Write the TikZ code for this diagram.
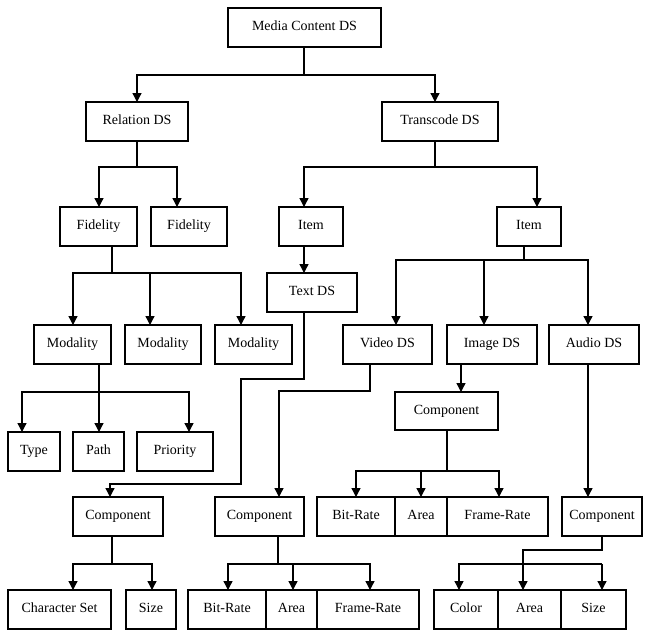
\documentclass[tikz,border=0pt]{standalone}
\usepackage{fontspec}
\setmainfont{Liberation Serif}
\usetikzlibrary{arrows.meta}
\tikzset{
  bx/.style={draw, line width=1.3pt, inner sep=0pt, outer sep=0pt, text height=9.5pt, text depth=3pt, font=\fontsize{14}{16}\selectfont},
  ln/.style={line width=1.3pt},
  arr/.style={line width=1.3pt, -{Triangle[width=9pt,length=9pt]}}
}
\newcommand\bx[6]{\node[bx,minimum width={#4pt-#2pt},minimum height={#5pt-#3pt}] (#1) at ({(#2+#4)/2},{(#3+#5)/2}) {#6};}
\begin{document}
\begin{tikzpicture}[x=1pt,y=-1pt]
\useasboundingbox (0,0) rectangle (647,630);
% boxes
\bx{mcd}{228}{8}{381}{47}{Media Content DS}
\bx{rel}{86}{102}{188}{141}{Relation DS}
\bx{trans}{382}{102}{498}{141}{Transcode DS}
\bx{fid1}{60}{207}{137}{246}{Fidelity}
\bx{fid2}{151}{207}{227}{246}{Fidelity}
\bx{item1}{279}{207}{343}{246}{Item}
\bx{item2}{497}{207}{561}{246}{Item}
\bx{textds}{267}{273}{357}{312}{Text DS}
\bx{mod1}{34}{325}{111}{364}{Modality}
\bx{mod2}{125}{325}{201}{364}{Modality}
\bx{mod3}{215}{325}{292}{364}{Modality}
\bx{video}{343}{325}{432}{364}{Video DS}
\bx{image}{447}{325}{537}{364}{Image DS}
\bx{audio}{549}{325}{639}{364}{Audio DS}
\bx{type}{8}{432}{60}{471}{Type}
\bx{path}{73}{432}{124}{471}{Path}
\bx{prio}{137}{432}{213}{471}{Priority}
\bx{comp3}{395}{392}{498}{430}{Component}
\bx{br1}{317}{497}{395}{536}{Bit-Rate}
\bx{area1}{395}{497}{447}{536}{Area}
\bx{fr1}{447}{497}{548}{536}{Frame-Rate}
\bx{comp1}{73}{497}{163}{536}{Component}
\bx{comp2}{215}{497}{304}{536}{Component}
\bx{comp4}{562}{497}{642}{536}{Component}
\bx{cs}{8}{590}{111}{629}{Character Set}
\bx{size1}{126}{590}{176}{629}{Size}
\bx{br2}{188}{590}{266}{629}{Bit-Rate}
\bx{area2}{266}{590}{317}{629}{Area}
\bx{fr2}{317}{590}{419}{629}{Frame-Rate}
\bx{color}{434}{590}{498}{629}{Color}
\bx{area3}{498}{590}{561}{629}{Area}
\bx{size2}{561}{590}{626}{629}{Size}
% connectors
\coordinate (j1) at (304,75);
\draw[ln] ([xshift=-0.5pt]mcd.south) -- (j1);
\draw[arr] (j1) -| (rel.north);
\draw[arr] (j1) -| ([xshift=-5pt]trans.north);

\coordinate (j2) at (137,167);
\draw[ln] (rel.south) -- (j2);
\draw[arr] (j2) -| ([xshift=0.5pt]fid1.north);
\draw[arr] (j2) -| ([xshift=-12pt]fid2.north);

\coordinate (j3) at (435,167);
\draw[ln] ([xshift=-5pt]trans.south) -- (j3);
\draw[arr] (j3) -| ([xshift=-7pt]item1.north);
\draw[arr] (j3) -| ([xshift=8pt]item2.north);

\coordinate (j4) at (112,273);
\draw[ln] ([xshift=13.5pt]fid1.south) -- (j4);
\draw[arr] (j4) -| ([xshift=0.5pt]mod1.north);
\draw[arr] (j4) -| ([xshift=-13pt]mod2.north);
\draw[arr] (j4) -| ([xshift=-12.5pt]mod3.north);

\draw[arr] ([xshift=-7pt]item1.south) -- ([xshift=-8pt]textds.north);

\coordinate (j6) at (524,260);
\draw[ln] ([xshift=-5pt]item2.south) -- (j6);
\draw[arr] (j6) -| ([xshift=8.5pt]video.north);
\draw[arr] (j6) -| ([xshift=-8pt]image.north);
\draw[arr] (j6) -| ([xshift=-6pt]audio.north);

\coordinate (j7) at (99,392);
\draw[ln] ([xshift=26.5pt]mod1.south) -- (j7);
\draw[arr] (j7) -| ([xshift=-12pt]type.north);
\draw[arr] (j7) -| ([xshift=0.5pt]path.north);
\draw[arr] (j7) -| ([xshift=14pt]prio.north);

\draw[arr] ([xshift=-8pt]textds.south) -- ++(0,67) -| (241,484) -| ([xshift=-8pt]comp1.north);

\draw[arr] ([xshift=-17.5pt]video.south) -- ++(0,27) -| ([xshift=19.5pt]comp2.north);

\draw[arr] ([xshift=14pt]image.south west) -- ([xshift=14pt]image.south west |- comp3.north);

\coordinate (j11) at (447,471);
\draw[ln] ([xshift=0.5pt]comp3.south) -- (j11);
\draw[arr] (j11) -| (br1.north);
\draw[arr] (j11) -| (area1.north);
\draw[arr] (j11) -| ([xshift=1.5pt]fr1.north);

\draw[arr] ([xshift=-6pt]audio.south) -- ([xshift=-6pt]audio.south |- comp4.north);

\coordinate (j13) at (112,564);
\draw[ln] ([xshift=-6pt]comp1.south) -- (j13);
\draw[arr] (j13) -| ([xshift=13.5pt]cs.north);
\draw[arr] (j13) -| ([xshift=1pt]size1.north);

\coordinate (j14) at (278,564);
\draw[ln] ([xshift=18.5pt]comp2.south) -- (j14);
\draw[arr] (j14) -| ([xshift=1pt]br2.north);
\draw[arr] (j14) -| ([xshift=1.5pt]area2.north);
\draw[arr] (j14) -| ([xshift=2pt]fr2.north);

\draw[arr] (comp4.south) -- ++(0,14) -| ([xshift=-6.5pt]area3.north);
\coordinate (j15) at (602,564);
\draw[arr] (j15) -| ([xshift=-7pt]color.north);
\draw[arr] (j15) -- ([xshift=8.5pt]size2.north);
\end{tikzpicture}
\end{document}
